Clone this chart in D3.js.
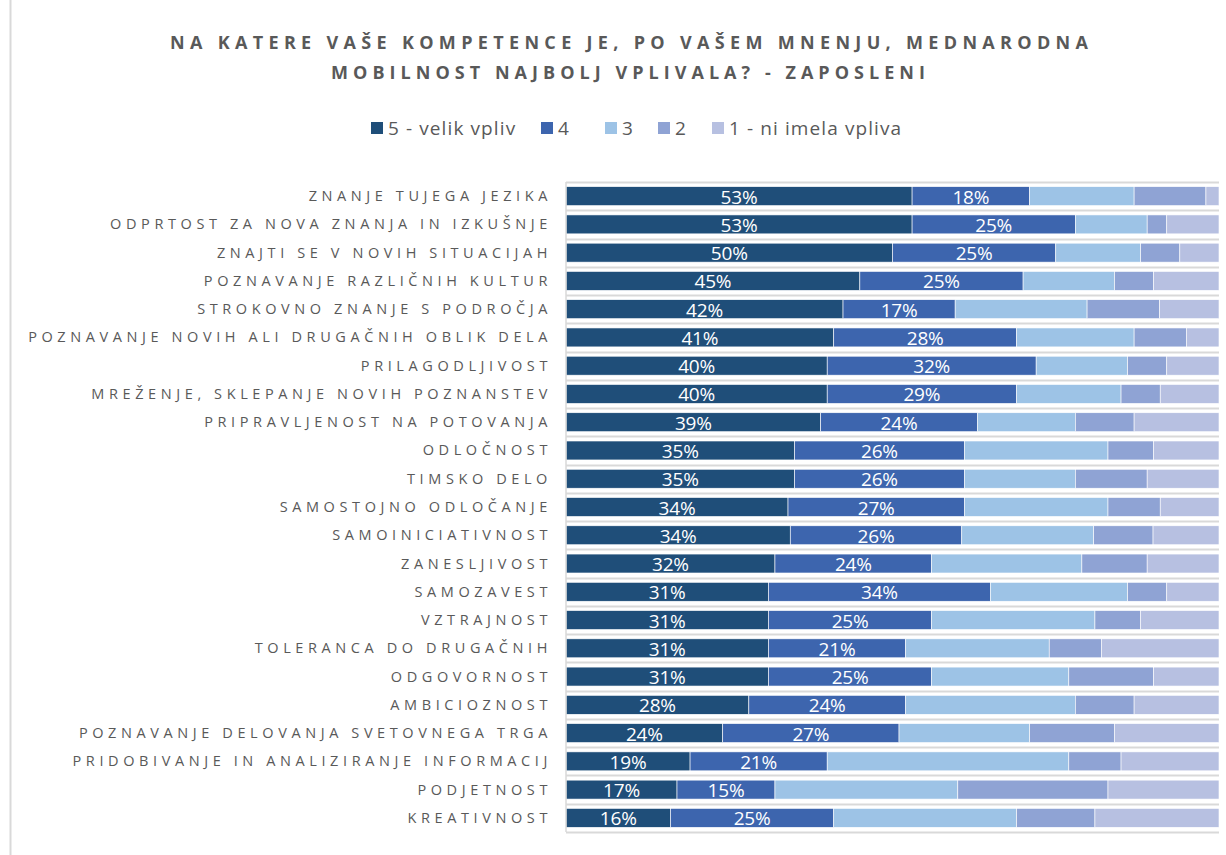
<!DOCTYPE html>
<html>
<head>
<meta charset="utf-8">
<script src="https://cdn.jsdelivr.net/npm/d3@7"></script>
<style>
  body { margin: 0; background: #fff; }
  svg { display: block; font-family: 'Open Sans', 'Noto Sans', sans-serif; }
</style>
</head>
<body>
<svg id="chart"></svg>
<script>
// categories, top to bottom
const categories = [
  'ZNANJE TUJEGA JEZIKA',
  'ODPRTOST ZA NOVA ZNANJA IN IZKUŠNJE',
  'ZNAJTI SE V NOVIH SITUACIJAH',
  'POZNAVANJE RAZLIČNIH KULTUR',
  'STROKOVNO ZNANJE S PODROČJA',
  'POZNAVANJE NOVIH ALI DRUGAČNIH OBLIK DELA',
  'PRILAGODLJIVOST',
  'MREŽENJE, SKLEPANJE NOVIH POZNANSTEV',
  'PRIPRAVLJENOST NA POTOVANJA',
  'ODLOČNOST',
  'TIMSKO DELO',
  'SAMOSTOJNO ODLOČANJE',
  'SAMOINICIATIVNOST',
  'ZANESLJIVOST',
  'SAMOZAVEST',
  'VZTRAJNOST',
  'TOLERANCA DO DRUGAČNIH',
  'ODGOVORNOST',
  'AMBICIOZNOST',
  'POZNAVANJE DELOVANJA SVETOVNEGA TRGA',
  'PRIDOBIVANJE IN ANALIZIRANJE INFORMACIJ',
  'PODJETNOST',
  'KREATIVNOST',
];

// series values in %
const s5 = [53, 53, 50, 45, 42, 41, 40, 40, 39, 35, 35, 34, 34, 32, 31, 31, 31, 31, 28, 24, 19, 17, 16];
const s4 = [18, 25, 25, 25, 17, 28, 32, 29, 24, 26, 26, 27, 26, 24, 34, 25, 21, 25, 24, 27, 21, 15, 25];
const s3 = [16, 11, 13, 14, 20, 18, 14, 16, 15, 22, 17, 22, 20, 23, 21, 25, 22, 21, 26, 20, 37, 28, 28];
const s2 = [11, 3, 6, 6, 11, 8, 6, 6, 9, 7, 11, 8, 9, 10, 6, 7, 8, 13, 9, 13, 8, 23, 12];
const s1 = [2, 8, 6, 10, 9, 5, 8, 9, 13, 10, 11, 9, 10, 11, 8, 12, 18, 10, 13, 16, 15, 17, 19];

const seriesNames = ['5 - velik vpliv', '4', '3', '2', '1 - ni imela vpliva'];
const seriesColors = ['#1F4E79', '#3D65AE', '#9DC3E6', '#8FA3D4', '#B7C0E1'];

const width = 1226;
const height = 855;
const plotLeft = 566;
const plotRight = 1219;
const plotTop = 182;
const plotBottom = 832;

const rows = categories.map((c, i) => ({
  cat: c,
  [seriesNames[0]]: s5[i],
  [seriesNames[1]]: s4[i],
  [seriesNames[2]]: s3[i],
  [seriesNames[3]]: s2[i],
  [seriesNames[4]]: s1[i],
}));

const stacked = d3.stack()
  .keys(seriesNames)
  .offset(d3.stackOffsetExpand)(rows);

const xScale = d3.scaleLinear().domain([0, 1]).range([plotLeft, plotRight]);
const yScale = d3.scaleBand().domain(categories).range([plotTop, plotBottom]).paddingInner(0.33).paddingOuter(0.165);
const color = d3.scaleOrdinal().domain(seriesNames).range(seriesColors);

const svg = d3.select('#chart').attr('width', width).attr('height', height);

// chart border (left edge)
svg.append('line')
  .attr('x1', 10.5).attr('x2', 10.5)
  .attr('y1', 0).attr('y2', height)
  .attr('stroke', '#d9d9d9')
  .attr('stroke-width', 2);

// title
const title = svg.append('text')
  .attr('text-anchor', 'middle')
  .attr('fill', '#595959')
  .style('font-size', '18px')
  .style('font-weight', 'bold');
title.append('tspan').attr('x', 629).attr('y', 49).attr('textLength', 918).attr('lengthAdjust', 'spacing')
  .text('NA KATERE VAŠE KOMPETENCE JE, PO VAŠEM MNENJU, MEDNARODNA');
title.append('tspan').attr('x', 628).attr('y', 79).attr('textLength', 594).attr('lengthAdjust', 'spacing')
  .text('MOBILNOST NAJBOLJ VPLIVALA? - ZAPOSLENI');

// legend
const legendX = [371, 541, 605, 658, 712];
const legend = svg.append('g').selectAll('g')
  .data(seriesNames)
  .join('g')
  .attr('transform', (d, i) => `translate(${legendX[i]},122)`);
legend.append('rect')
  .attr('width', 12).attr('height', 12)
  .attr('fill', d => color(d));
legend.append('text')
  .attr('x', 17).attr('y', 13)
  .attr('fill', '#595959')
  .style('font-size', '19px')
  .style('letter-spacing', '1.1px')
  .text(d => d);

// gridlines between categories
const bounds = categories.map(c => yScale(c) - yScale.step() * yScale.paddingInner() / 2);
bounds.push(plotBottom);
svg.append('g')
  .selectAll('line')
  .data(bounds)
  .join('line')
  .attr('x1', plotLeft).attr('x2', plotRight)
  .attr('y1', d => Math.round(d) + 0.5).attr('y2', d => Math.round(d) + 0.5)
  .attr('stroke', '#d9d9d9')
  .attr('stroke-width', 2);

// bars
const groups = svg.append('g')
  .selectAll('g')
  .data(stacked)
  .join('g')
  .attr('fill', d => color(d.key));

groups.selectAll('rect')
  .data(d => d)
  .join('rect')
  .attr('x', d => xScale(d[0]))
  .attr('y', d => yScale(d.data.cat))
  .attr('width', d => xScale(d[1]) - xScale(d[0]))
  .attr('height', yScale.bandwidth())
  .attr('stroke', '#fff')
  .attr('stroke-width', 0.6);

// left axis line
svg.append('line')
  .attr('x1', plotLeft).attr('x2', plotLeft)
  .attr('y1', plotTop).attr('y2', plotBottom)
  .attr('stroke', '#d9d9d9')
  .attr('stroke-width', 1.5);

// data labels for the first two series
stacked.slice(0, 2).forEach(layer => {
  svg.append('g')
    .selectAll('text')
    .data(layer)
    .join('text')
    .attr('x', d => (xScale(d[0]) + xScale(d[1])) / 2)
    .attr('y', d => yScale(d.data.cat) + yScale.bandwidth() / 2 + 7.5)
    .attr('text-anchor', 'middle')
    .attr('fill', '#fff')
    .style('font-size', '19px')
    .style('letter-spacing', '-0.2px')
    .text(d => d.data[layer.key] + '%');
});

// category labels
svg.append('g')
  .selectAll('text')
  .data(categories)
  .join('text')
  .attr('x', 552)
  .attr('y', d => yScale(d) + yScale.bandwidth() / 2 + 5)
  .attr('text-anchor', 'end')
  .attr('fill', '#595959')
  .style('font-size', '14.5px')
  .style('letter-spacing', '4.6px')
  .text(d => d);
</script>
</body>
</html>
